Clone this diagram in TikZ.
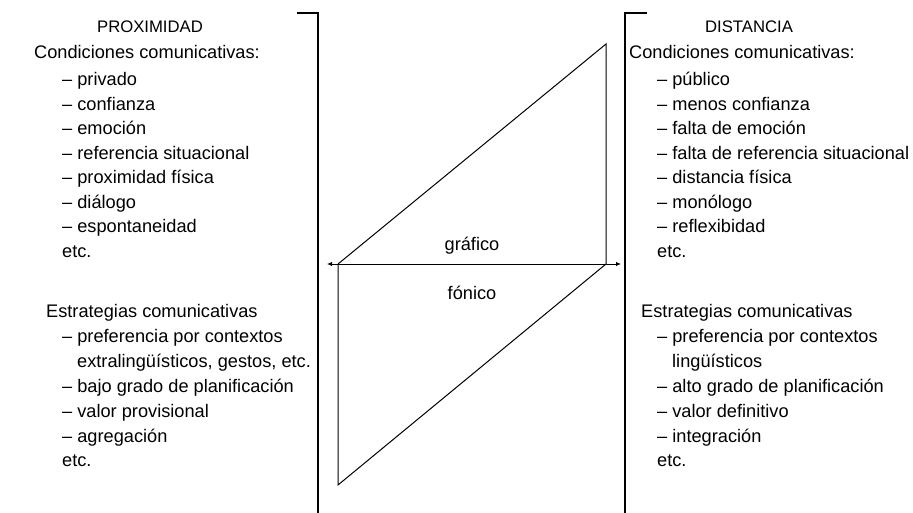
\documentclass[tikz,border=0pt]{standalone}
\usepackage{fontspec}
\setmainfont{Liberation Sans}
\usetikzlibrary{arrows.meta}
\begin{document}
\begin{tikzpicture}[x=1pt,y=-1pt,
  txt/.style={anchor=base west,inner sep=0pt,font=\fontsize{18.2}{22}\selectfont},
  ctr/.style={anchor=base,inner sep=0pt,font=\fontsize{18.2}{22}\selectfont},
  ttl/.style={anchor=base,inner sep=0pt,font=\fontsize{16.7}{20}\selectfont},
  ln/.style={line width=1.3pt},
  thin/.style={line width=1pt},
  arr/.style={-{Latex[length=5pt,width=4.5pt]},line width=0.9pt}]
\useasboundingbox (0,0) rectangle (913,513);
% brackets
\coordinate (lt) at (297,13);
\coordinate (lc) at (318,13);
\coordinate (lb) at (318,513);
\coordinate (rt) at (647,13);
\coordinate (rc) at (625,13);
\coordinate (rb) at (625,513);
\draw[ln] (lt) -- (lc) -- (lb);
\draw[ln] (rt) -- (rc) -- (rb);
% parallelogram
\coordinate (A) at (338,264);
\coordinate (B) at (606,44);
\coordinate (C) at (606,264);
\coordinate (D) at (338,485);
\coordinate (la) at (327,264);
\coordinate (ra) at (621,264);
\draw[thin] (A) -- (B) -- (C);
\draw[thin] (A) -- (D) -- (C);
\draw[thin] (A) -- (C);
\draw[arr] (A) -- (la);
\draw[arr] (C) -- (ra);
\node[ctr] (graf) at (472,251) {gráfico};
\node[ctr] (fon) at (472,299) {fónico};
% left column
\node[ttl] (prox) at (150,33) {PROXIMIDAD};
\node[txt] (lcond) at (34,59) {Condiciones comunicativas:};
\node[txt] (l1) at (62,86) {-- privado};
\node[txt] (l2) at (62,110.5) {-- confianza};
\node[txt] (l3) at (62,135) {-- emoción};
\node[txt] (l4) at (62,159.5) {-- referencia situacional};
\node[txt] (l5) at (62,184) {-- proximidad física};
\node[txt] (l6) at (62,208.5) {-- diálogo};
\node[txt] (l7) at (62,233) {-- espontaneidad};
\node[txt] (l8) at (62,257.5) {etc.};
\node[txt] (lest) at (46,317) {Estrategias comunicativas};
\node[txt] (m1) at (62,342) {-- preferencia por contextos};
\node[txt] (m1b) at (77,367) {extralingüísticos, gestos, etc.};
\node[txt] (m2) at (62,392) {-- bajo grado de planificación};
\node[txt] (m3) at (62,417) {-- valor provisional};
\node[txt] (m4) at (62,442) {-- agregación};
\node[txt] (m5) at (62,466.5) {etc.};
% right column
\node[ttl] (dist) at (749,33) {DISTANCIA};
\node[txt] (rcond) at (629,59) {Condiciones comunicativas:};
\node[txt] (r1) at (657,86) {-- público};
\node[txt] (r2) at (657,110.5) {-- menos confianza};
\node[txt] (r3) at (657,135) {-- falta de emoción};
\node[txt] (r4) at (657,159.5) {-- falta de referencia situacional};
\node[txt] (r5) at (657,184) {-- distancia física};
\node[txt] (r6) at (657,208.5) {-- monólogo};
\node[txt] (r7) at (657,233) {-- reflexibidad};
\node[txt] (r8) at (657,257.5) {etc.};
\node[txt] (rest) at (641,317) {Estrategias comunicativas};
\node[txt] (s1) at (657,342) {-- preferencia por contextos};
\node[txt] (s1b) at (672,367) {lingüísticos};
\node[txt] (s2) at (657,392) {-- alto grado de planificación};
\node[txt] (s3) at (657,417) {-- valor definitivo};
\node[txt] (s4) at (657,442) {-- integración};
\node[txt] (s5) at (657,466.5) {etc.};
\end{tikzpicture}
\end{document}
